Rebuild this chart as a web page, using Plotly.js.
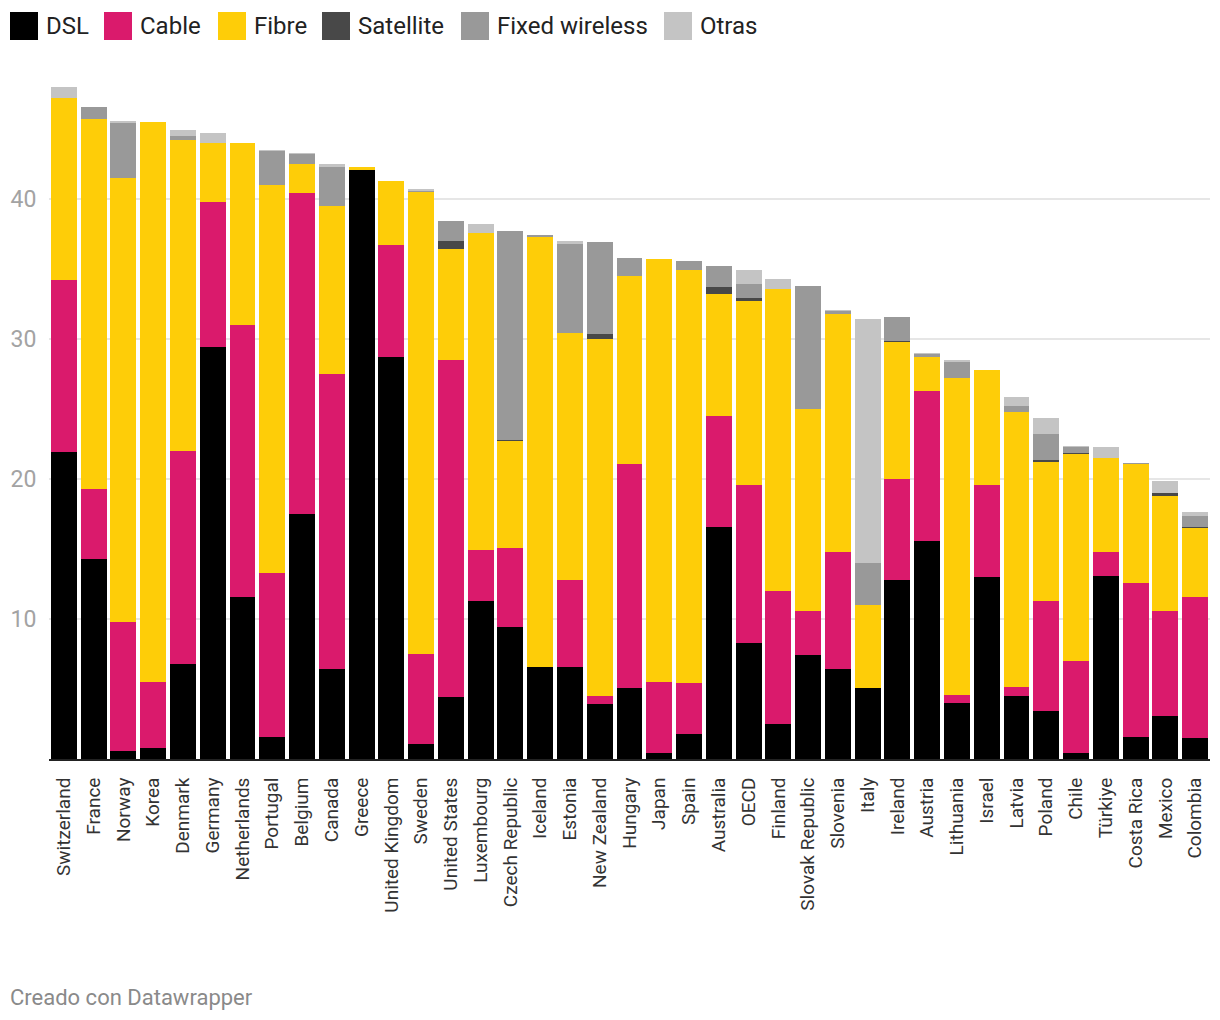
<!DOCTYPE html>
<html>
<head>
<meta charset="utf-8">
<script src="https://cdn.plot.ly/plotly-3.0.1.min.js"></script>
<style>
  html, body { margin: 0; padding: 0; background: #fff; }
  #chart { width: 1220px; height: 1020px; }
</style>
</head>
<body>
<div id="chart"></div>
<script>
const countries = ["Switzerland","France","Norway","Korea","Denmark","Germany","Netherlands","Portugal","Belgium","Canada","Greece","United Kingdom","Sweden","United States","Luxembourg","Czech Republic","Iceland","Estonia","New Zealand","Hungary","Japan","Spain","Australia","OECD","Finland","Slovak Republic","Slovenia","Italy","Ireland","Austria","Lithuania","Israel","Latvia","Poland","Chile","Türkiye","Costa Rica","Mexico","Colombia"];

const dsl       = [21.9,14.3,0.6,0.8,6.8,29.4,11.6,1.6,17.5,6.4,42.1,28.7,1.1,4.4,11.3,9.4,6.6,6.6,3.9,5.1,0.4,1.8,16.6,8.3,2.5,7.4,6.4,5.1,12.8,15.6,4.0,13.0,4.5,3.4,0.4,13.1,1.6,3.1,1.5];
const cable     = [12.3,5.0,9.2,4.7,15.2,10.4,19.4,11.7,22.9,21.1,0,8.0,6.4,24.1,3.6,5.7,0,6.2,0.6,16.0,5.1,3.6,7.9,11.3,9.5,3.2,8.4,0,7.2,10.7,0.6,6.6,0.65,7.9,6.6,1.7,11.0,7.5,10.1];
const fibre     = [13.0,26.4,31.7,40.0,22.2,4.2,13.0,27.7,2.1,12.0,0.2,4.6,33.0,7.9,22.7,7.6,30.7,17.6,25.5,13.4,30.2,29.5,8.7,13.1,21.6,14.4,17.0,5.9,9.8,2.4,22.6,8.2,19.65,9.9,14.8,6.7,8.5,8.2,4.9];
const satellite = [0,0,0,0,0,0,0,0,0,0,0,0,0,0.6,0,0.1,0,0,0.35,0,0,0,0.5,0.2,0,0,0,0,0.07,0,0,0,0,0.15,0.07,0,0,0.2,0.07];
const fixedWireless = [0,0.85,3.9,0,0.3,0,0,2.4,0.7,2.8,0,0,0.1,1.4,0,14.9,0.1,6.4,6.6,1.3,0,0.65,1.5,1.0,0,8.8,0.2,3.0,1.7,0.2,1.15,0,0.4,1.9,0.43,0,0.07,0,0.8];
const otras     = [0.8,0,0.15,0,0.4,0.75,0,0.1,0.08,0.2,0,0,0.1,0,0.65,0,0,0.2,0,0,0,0,0,1.0,0.7,0,0.07,17.4,0,0.07,0.15,0,0.65,1.1,0.07,0.8,0,0.86,0.3];

const seriesNames = ["DSL","Cable","Fibre","Satellite","Fixed wireless","Otras"];
const seriesColors = ["#000000","#da1a6c","#fecd08","#484848","#999999","#c4c4c4"];
const seriesData = [dsl, cable, fibre, satellite, fixedWireless, otras];

const W = 1220, H = 1020;
const M = {l: 49, r: 10, t: 73, b: 261};
const PW = W - M.l - M.r, PH = H - M.t - M.b;
const px = x => (x - M.l) / PW;
const py = y => (H - M.b - y) / PH;

const traces = seriesNames.map((name, i) => ({
  type: 'bar',
  name: name,
  x: countries,
  y: seriesData[i],
  marker: {color: seriesColors[i], line: {width: 0}},
  showlegend: false,
  hoverinfo: 'x+y+name'
}));

// custom legend (swatches + labels)
const legendX = [10, 104, 218, 322, 461, 664];
const shapes = [];
const annotations = [];
seriesNames.forEach((name, i) => {
  shapes.push({
    type: 'rect', xref: 'paper', yref: 'paper',
    x0: px(legendX[i]), x1: px(legendX[i] + 28),
    y0: py(40), y1: py(12),
    fillcolor: seriesColors[i], line: {width: 0}, layer: 'above'
  });
  annotations.push({
    xref: 'paper', yref: 'paper',
    x: px(legendX[i] + 34), y: py(26),
    xanchor: 'left', yanchor: 'middle',
    text: name, showarrow: false,
    font: {family: 'Roboto, sans-serif', size: 24, color: '#222'}
  });
});
annotations.push({
  xref: 'paper', yref: 'paper',
  x: px(8), y: py(997),
  xanchor: 'left', yanchor: 'middle',
  text: 'Creado con Datawrapper', showarrow: false,
  font: {family: 'Roboto, sans-serif', size: 22, color: '#8a8a8a'}
});

const layout = {
  width: W, height: H,
  margin: M,
  barmode: 'stack',
  bargap: 0.13,
  paper_bgcolor: '#ffffff',
  plot_bgcolor: '#ffffff',
  showlegend: false,
  font: {family: 'Roboto, sans-serif'},
  xaxis: {
    type: 'category',
    tickangle: -90,
    tickfont: {family: 'Roboto, sans-serif', size: 19, color: '#333'},
    ticks: 'outside', ticklen: 9, tickcolor: 'rgba(0,0,0,0)',
    showline: true, linecolor: '#222', linewidth: 2,
    showgrid: false, fixedrange: true
  },
  yaxis: {
    range: [0, 49],
    tickvals: [10, 20, 30, 40],
    ticktext: ['10', '20', '30', '40'],
    tickfont: {family: 'Roboto, sans-serif', size: 23, color: '#a3a3a3'},
    ticks: 'outside', ticklen: 7, tickcolor: 'rgba(0,0,0,0)',
    showgrid: true, gridcolor: '#e6e6e6', gridwidth: 2,
    zeroline: false, showline: false, fixedrange: true
  },
  shapes: shapes,
  annotations: annotations
};

Plotly.newPlot('chart', traces, layout, {displayModeBar: false, staticPlot: true});
</script>
</body>
</html>
